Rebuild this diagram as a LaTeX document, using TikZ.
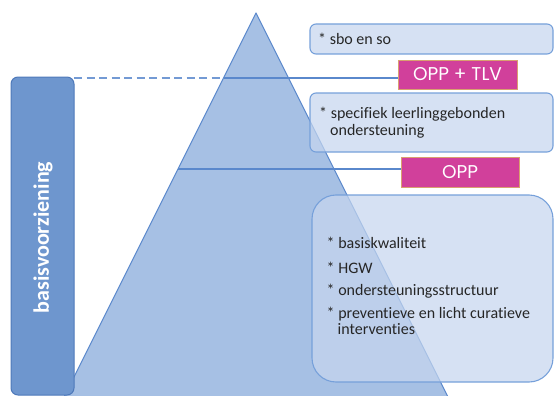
\documentclass[tikz,border=0pt]{standalone}
\usepackage{fontspec}
\setmainfont{Carlito}[Ligatures=NoCommon]
\newfontfamily\oppfont{Poppins}
\definecolor{trifill}{HTML}{A6C0E4}
\definecolor{triline}{HTML}{5A88CC}
\definecolor{sidefill}{HTML}{6E96CE}
\definecolor{sideline}{HTML}{4E79BA}
\definecolor{boxfill}{HTML}{C6D6EF}
\definecolor{boxline}{HTML}{76A0DA}
\definecolor{oppfill}{HTML}{D1409B}
\definecolor{oppline}{HTML}{D9A070}
\begin{document}
\begin{tikzpicture}[x=1pt,y=-1pt,
  trianglestyle/.style={fill=trifill,draw=triline,line width=1.1pt,line join=round},
  divider/.style={draw=triline,line width=1.1pt},
  dashedlink/.style={draw=triline!85,line width=1.3pt,dash pattern=on 8pt off 4.5pt},
  sidebox/.style={rectangle,rounded corners=7pt,fill=sidefill,draw=sideline,line width=1pt,inner sep=0pt,outer sep=0pt},
  sidetext/.style={text=white,font=\bfseries\fontsize{22}{26}\selectfont,rotate=90,inner sep=0pt},
  lightbox/.style={rectangle,rounded corners=6pt,fill=boxfill,fill opacity=0.72,draw=boxline,line width=1.1pt,inner sep=0pt,outer sep=0pt},
  bigbox/.style={lightbox,rounded corners=24pt},
  oppbox/.style={rectangle,fill=oppfill,draw=oppline,line width=0.5pt,inner sep=0pt,outer sep=0pt,text=white,font=\oppfont\fontsize{18.5}{22}\selectfont},
  itemtext/.style={anchor=base west,inner sep=0pt,font=\fontsize{16}{19}\selectfont,text=black!85}
]
\useasboundingbox (0,0) rectangle (554,396);
\clip (0,0) rectangle (554,396);
% pyramid
\coordinate (apex) at (256,13);
\coordinate (bl) at (54,417);
\coordinate (br) at (458,417);
\path[trianglestyle] (apex) -- (bl) -- (br) -- cycle;
\coordinate (d1) at (223.5,78);
\coordinate (d2) at (178,169);
% boxes
\node[sidebox,minimum width=63pt,minimum height=318pt] (side) at (42.5,236) {};
\node[sidetext] (sidelabel) at (43,237.5) {basisvoorziening};
\node[lightbox,minimum width=243pt,minimum height=30pt] (top) at (431.5,39) {};
\node[lightbox,minimum width=243pt,minimum height=59pt] (mid) at (431.5,122.5) {};
\node[bigbox,minimum width=241pt,minimum height=187pt] (big) at (432.5,288.5) {};
\node[oppbox,minimum width=119pt,minimum height=29pt] (opptlv) at (457.5,74.5) {OPP + TLV};
\node[oppbox,minimum width=118pt,minimum height=30pt] (opp) at (460,172) {OPP};
% connectors
\draw[divider] (d1) -- (d1 -| opptlv.west);
\draw[divider] (d2) -- (d2 -| opp.west);
\draw[dashedlink] (d1 -| side.east) -- (d1);
% texts
\node[itemtext] (t1) at (318,45) {* sbo en so};
\node[itemtext] (t2) at (319,118) {* specifiek leerlinggebonden};
\node[itemtext] (t3) at (330,135) {ondersteuning};
\node[itemtext] (b1) at (326.5,248.5) {* basiskwaliteit};
\node[itemtext] (b2) at (326.5,273) {* HGW};
\node[itemtext] (b3) at (326.5,295) {* ondersteuningsstructuur};
\node[itemtext] (b4) at (326.5,318) {* preventieve en licht curatieve};
\node[itemtext] (b5) at (337.5,334) {interventies};
\end{tikzpicture}
\end{document}
